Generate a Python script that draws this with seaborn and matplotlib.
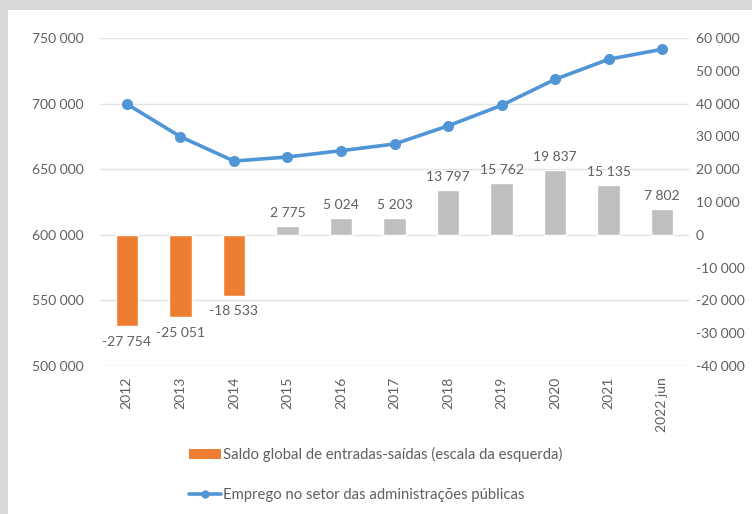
import matplotlib
matplotlib.use("Agg")
import matplotlib.pyplot as plt
from matplotlib.patches import Patch, Rectangle
from matplotlib.lines import Line2D
from matplotlib.ticker import FuncFormatter, MultipleLocator
import seaborn as sns
import pandas as pd

# Years shown on the horizontal axis
periods = ["2012", "2013", "2014", "2015", "2016", "2017",
           "2018", "2019", "2020", "2021", "2022 jun"]

# Net balance of entries minus exits (bars, right-hand scale)
saldo = [-27754, -25051, -18533, 2775, 5024, 5203,
         13797, 15762, 19837, 15135, 7802]

# Public administration employment (line, left-hand scale)
emprego = [699700, 674800, 656200, 659300, 664100, 669200,
           683000, 698700, 718500, 733800, 741400]

label_saldo = "Saldo global de entradas-saídas (escala da esquerda)"
label_emprego = "Emprego no setor das administrações públicas"

ORANGE = "#ED7D31"
GREY_BAR = "#BFBFBF"
BLUE = "#5095D6"
TEXT = "#5F5F5F"

sns.set_theme(style="white")
plt.rcParams["font.family"] = ["Lato", "DejaVu Sans"]

df = pd.DataFrame({"periodo": periods, "saldo": saldo, "emprego": emprego})
bar_colors = [ORANGE if v < 0 else GREY_BAR for v in saldo]

fig = plt.figure(figsize=(7.52, 5.14), dpi=100)
fig.patch.set_facecolor("#DADADA")
fig.patches.append(Rectangle((8 / 752, 0), 1, 1 - 10 / 514,
                             transform=fig.transFigure,
                             facecolor="white", edgecolor="none", zorder=-5))

ax = fig.add_axes([100 / 752, 1 - 366 / 514, 589 / 752, 328 / 514])
ax.patch.set_visible(False)
ax2 = ax.twinx()

# Employment line on the left axis
sns.pointplot(data=df, x="periodo", y="emprego", ax=ax, color=BLUE,
              markers="o", linewidth=2.6, markersize=6, errorbar=None)
ax.set_ylim(500000, 750000)
ax.yaxis.set_major_locator(MultipleLocator(50000))

# Net balance bars on the right axis
sns.barplot(data=df, x="periodo", y="saldo", ax=ax2, hue="periodo",
            palette=bar_colors, legend=False, width=0.42, saturation=1)
ax2.set_ylim(-40000, 60000)
ax2.yaxis.set_major_locator(MultipleLocator(10000))

fmt = FuncFormatter(lambda v, p: f"{int(v):,}".replace(",", " "))
ax.yaxis.set_major_formatter(fmt)
ax2.yaxis.set_major_formatter(fmt)

ax.set_xlim(-0.5, len(periods) - 0.5)
ax.grid(axis="y", color="#E3E3E3", linewidth=1)
ax.grid(axis="x", visible=False)
ax2.grid(False)
for a in (ax, ax2):
    for s in a.spines.values():
        s.set_visible(False)
    a.set_xlabel("")
    a.set_ylabel("")
    a.tick_params(axis="both", length=0, colors=TEXT, labelsize=10)

ax.tick_params(axis="y", pad=12)
ax2.tick_params(axis="y", pad=5)
ax.set_xticks(range(len(periods)))
ax.set_xticklabels(periods, rotation=90, fontsize=10, color=TEXT)
ax.tick_params(axis="x", pad=8)

# Value labels on the bars
for bar, v in zip(ax2.patches, saldo):
    x = bar.get_x() + bar.get_width() / 2
    if v >= 0:
        ax2.annotate(f"{v:,}".replace(",", " "), (x, v), xytext=(0, 5),
                     textcoords="offset points", ha="center", va="bottom",
                     fontsize=10, color=TEXT)
    else:
        ax2.annotate(f"{v:,}".replace(",", " "), (x, v), xytext=(0, -7),
                     textcoords="offset points", ha="center", va="top",
                     fontsize=10, color=TEXT)

handles = [
    Patch(facecolor=ORANGE, edgecolor="none"),
    Line2D([], [], color=BLUE, linewidth=2.6, marker="o", markersize=5),
]
fig.legend(handles, [label_saldo, label_emprego], loc="upper left",
           bbox_to_anchor=(176 / 752, 1 - 434 / 514), frameon=False,
           fontsize=10.7, labelcolor=TEXT, handlelength=2.1,
           handleheight=0.7, handletextpad=0.15, labelspacing=1.75)

fig.savefig("out.png", dpi=100, facecolor=fig.get_facecolor())
